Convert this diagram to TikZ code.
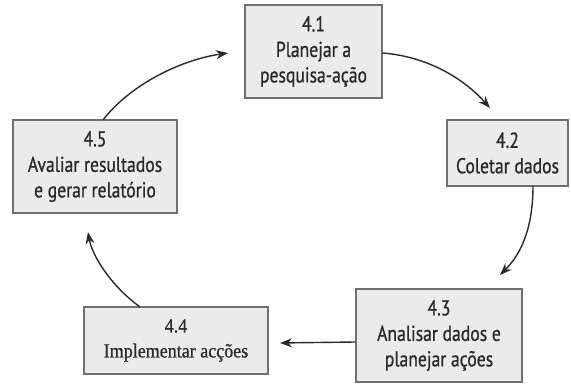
\documentclass[tikz,border=0pt]{standalone}
\usepackage{fontspec}
\setmainfont{PT Sans}[FakeStretch=0.82,FakeBold=0.8]
\newfontfamily\serifstep{Liberation Serif}[FakeStretch=0.9,FakeBold=0.8]
\usetikzlibrary{arrows.meta}
\definecolor{boxfill}{HTML}{EBEBEB}
\definecolor{boxline}{HTML}{707070}
\definecolor{ink}{HTML}{2A2A2A}
\begin{document}
\begin{tikzpicture}[x=1pt,y=1pt,
  stepbox/.style={draw=boxline, fill=boxfill, line width=1.5pt, inner sep=0pt,
    align=center, text=ink, font=\fontsize{21.5}{25.5}\selectfont},
  flow/.style={draw=ink, line width=1.4pt, -{Stealth[length=12pt,width=9pt]}}]
\useasboundingbox (0,0) rectangle (571,385);

% the five steps of the cycle
\node[stepbox, minimum width=137, minimum height=93] (s1) at (313.5,333.5)
  {4.1\\Planejar a\\pesquisa-ação};
\node[stepbox, minimum width=121, minimum height=66] (s2) at (507.5,232)
  {4.2\\Coletar dados};
\node[stepbox, minimum width=166, minimum height=93] (s3) at (439,49.5)
  {4.3\\Analisar dados e\\planejar ações};
\node[stepbox, minimum width=184, minimum height=67,
  font=\serifstep\fontsize{20}{25}\selectfont] (s4) at (176,44.5)
  {4.4\\Implementar acções};
\node[stepbox, minimum width=164, minimum height=93] (s5) at (95,218.5)
  {4.5\\Avaliar resultados\\e gerar relatório};

% end points of the connectors
\coordinate (t1) at (490,277);
\coordinate (t2) at (500,110);
\coordinate (t3) at (280,42);
\coordinate (t4) at (88,153);
\coordinate (t5) at (228,332);

% connectors
\draw[flow] (s1.east |- 0,332) .. controls (430,328) and (465,305) .. (t1);
\draw[flow] (533,199) .. controls (533,155) and (520,130) .. (t2);
\draw[flow] (s3.west |- 0,43) -- (t3);
\draw[flow] (140,78) .. controls (110,100) and (92,130) .. (t4);
\draw[flow] (103,265) .. controls (130,300) and (180,325) .. (t5);
\end{tikzpicture}
\end{document}
